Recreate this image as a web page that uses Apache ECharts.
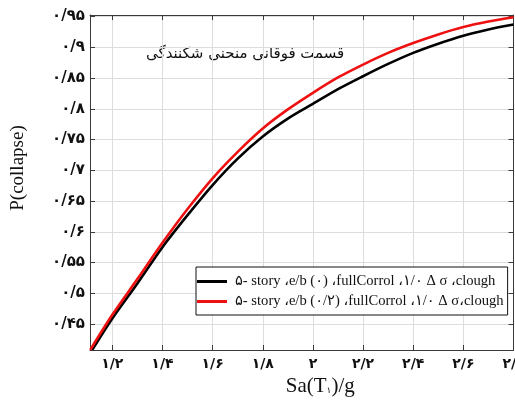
<!DOCTYPE html>
<html>
<head>
<meta charset="utf-8">
<script src="https://cdn.jsdelivr.net/npm/echarts@6/dist/echarts.min.js"></script>
<style>
  html, body { margin: 0; padding: 0; background: #ffffff; }
  #chart { width: 515px; height: 401px; }
</style>
</head>
<body>
<div id="chart"></div>
<script>
// Fragility curves: probability of collapse versus Sa(T1)/g
const saBlack = [1.12, 1.2, 1.3, 1.4, 1.5, 1.6, 1.7, 1.8, 1.9, 2.0, 2.1, 2.2, 2.3, 2.4, 2.5, 2.6, 2.7, 2.8];
const pBlack  = [0.408, 0.459, 0.516, 0.575, 0.627, 0.676, 0.719, 0.755, 0.784, 0.808, 0.832, 0.853, 0.873, 0.891, 0.906, 0.919, 0.929, 0.937];

const saRed = [1.112, 1.2, 1.3, 1.4, 1.5, 1.6, 1.7, 1.8, 1.9, 2.0, 2.1, 2.2, 2.3, 2.4, 2.5, 2.6, 2.7, 2.8];
const pRed  = [0.408, 0.465, 0.523, 0.582, 0.637, 0.687, 0.730, 0.768, 0.799, 0.826, 0.851, 0.872, 0.891, 0.907, 0.921, 0.933, 0.942, 0.949];

const seriesNames = [
  '۵- story ،e/b (۰) ،fullCorrol ،۱/۰ Δ σ ،clough',
  '۵- story ،e/b (۰/۲) ،fullCorrol ،۱/۰ Δ σ،clough'
];

const xTickValues = [1.2, 1.4, 1.6, 1.8, 2.0, 2.2, 2.4, 2.6, 2.8];
const xTickLabels = ['۱/۲', '۱/۴', '۱/۶', '۱/۸', '۲', '۲/۲', '۲/۴', '۲/۶', '۲/۸'];
const yTickValues = [0.45, 0.5, 0.55, 0.6, 0.65, 0.7, 0.75, 0.8, 0.85, 0.9, 0.95];
const yTickLabels = ['۰/۴۵', '۰/۵', '۰/۵۵', '۰/۶', '۰/۶۵', '۰/۷', '۰/۷۵', '۰/۸', '۰/۸۵', '۰/۹', '۰/۹۵'];

const titleText = 'قسمت فوقانی منحنی شکنندگی';

const X_MIN = 1.111, X_MAX = 2.8;
const Y_MIN = 0.4077, Y_MAX = 0.9526;

function lookup(values, labels, v) {
  const i = values.findIndex(t => Math.abs(t - v) < 1e-6);
  return i >= 0 ? labels[i] : '';
}

const serif = "'Liberation Serif', 'DejaVu Sans', serif";
const digitFont = "'DejaVu Sans', sans-serif";
const axisColor = '#3a3a3a';
const gridColor = '#dddddd';

const chart = echarts.init(document.getElementById('chart'), null, { renderer: 'canvas' });

chart.setOption({
  backgroundColor: '#ffffff',
  animation: false,
  grid: {
    left: 90, right: 1.5, top: 15, bottom: 51,
    containLabel: false,
    outerBoundsMode: 'none'
  },
  graphic: [{
    type: 'text',
    left: 146, top: 47,
    style: {
      text: titleText,
      font: "15px 'DejaVu Sans', sans-serif",
      fill: '#111111'
    }
  }],
  legend: {
    orient: 'vertical',
    left: 196, top: 267,
    padding: [6, 4, 5, 1],
    icon: 'rect',
    itemWidth: 30,
    itemHeight: 3,
    itemGap: 3,
    backgroundColor: '#ffffff',
    borderColor: '#111111',
    borderWidth: 1,
    borderRadius: 0,
    textStyle: { fontFamily: serif, fontSize: 14.6, lineHeight: 17, color: '#111111', padding: [0, 0, 0, 3] },
    data: seriesNames
  },
  xAxis: [{
    type: 'value',
    position: 'bottom',
    min: X_MIN, max: X_MAX,
    name: 'Sa(T{sub|۱})/g',
    nameLocation: 'middle',
    nameGap: 16,
    nameTextStyle: {
      fontFamily: serif, fontSize: 21, color: '#111111',
      padding: [0, 0, 0, 37],
      rich: { sub: { fontFamily: serif, fontSize: 9, padding: [9, 0, 0, 0], color: '#111111' } }
    },
    axisLine: { show: true, onZero: false, lineStyle: { color: axisColor, width: 1 } },
    axisTick: { show: true, inside: true, length: 5, customValues: xTickValues, lineStyle: { color: axisColor } },
    axisLabel: {
      customValues: xTickValues,
      margin: 7,
      fontFamily: digitFont, fontSize: 14, fontWeight: 'bold', color: '#111111',
      formatter: v => lookup(xTickValues, xTickLabels, v)
    },
    splitLine: { show: true, lineStyle: { color: gridColor, width: 1 } }
  }, {
    type: 'value',
    position: 'top',
    min: X_MIN, max: X_MAX,
    axisLine: { show: true, onZero: false, lineStyle: { color: axisColor, width: 1 } },
    axisTick: { show: true, inside: true, length: 5, customValues: xTickValues, lineStyle: { color: axisColor } },
    axisLabel: { show: false },
    splitLine: { show: false }
  }],
  yAxis: [{
    type: 'value',
    position: 'left',
    min: Y_MIN, max: Y_MAX,
    name: 'P(collapse)',
    nameLocation: 'middle',
    nameRotate: 90,
    nameGap: 62,
    nameTextStyle: { fontFamily: serif, fontSize: 19, color: '#111111', padding: [0, 0, 0, 29] },
    axisLine: { show: true, onZero: false, lineStyle: { color: axisColor, width: 1 } },
    axisTick: { show: true, inside: true, length: 5, customValues: yTickValues, lineStyle: { color: axisColor } },
    axisLabel: {
      customValues: yTickValues,
      margin: 5,
      fontFamily: digitFont, fontSize: 15, fontWeight: 'bold', color: '#111111',
      formatter: v => lookup(yTickValues, yTickLabels, v)
    },
    splitLine: { show: true, lineStyle: { color: gridColor, width: 1 } }
  }, {
    type: 'value',
    position: 'right',
    min: Y_MIN, max: Y_MAX,
    axisLine: { show: true, onZero: false, lineStyle: { color: axisColor, width: 1 } },
    axisTick: { show: true, inside: true, length: 5, customValues: yTickValues, lineStyle: { color: axisColor } },
    axisLabel: { show: false },
    splitLine: { show: false }
  }],
  series: [{
    name: seriesNames[0],
    type: 'line',
    xAxisIndex: 0, yAxisIndex: 0,
    data: saBlack.map((x, i) => [x, pBlack[i]]),
    showSymbol: false, symbol: 'none',
    smooth: 0.3,
    lineStyle: { color: '#000000', width: 2.6 },
    itemStyle: { color: '#000000' },
    z: 3
  }, {
    name: seriesNames[1],
    type: 'line',
    xAxisIndex: 0, yAxisIndex: 0,
    data: saRed.map((x, i) => [x, pRed[i]]),
    showSymbol: false, symbol: 'none',
    smooth: 0.3,
    lineStyle: { color: '#ee1111', width: 2.6 },
    itemStyle: { color: '#ee1111' },
    z: 4
  }]
});
</script>
</body>
</html>
